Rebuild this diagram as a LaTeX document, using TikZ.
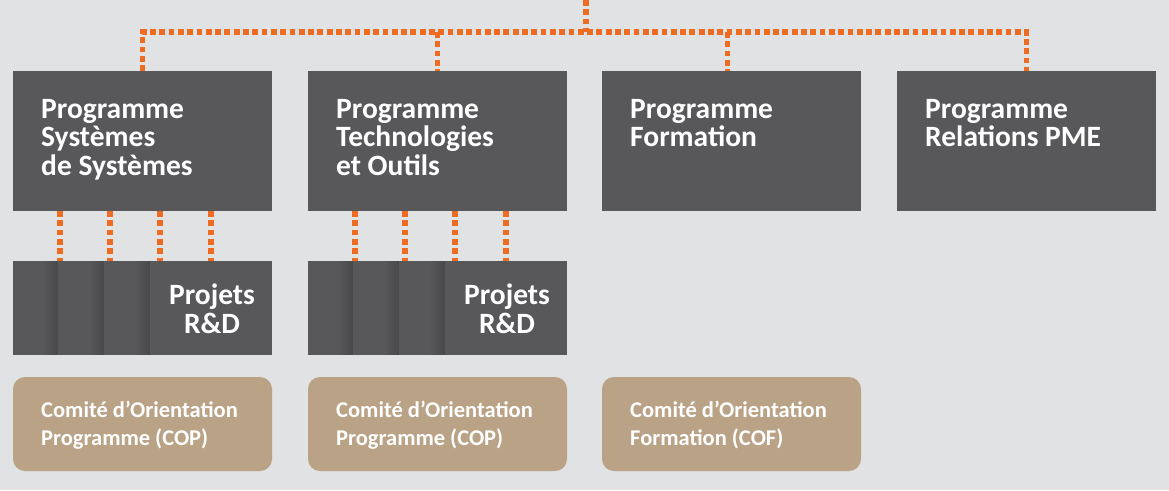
\documentclass[tikz,border=0pt]{standalone}
\usepackage{fontspec}
\setmainfont{Carlito}
\definecolor{bgc}{HTML}{E1E2E4}
\definecolor{boxc}{HTML}{58585B}
\definecolor{boxd}{HTML}{4A4A4D}
\definecolor{tanc}{HTML}{B9A285}
\definecolor{orc}{HTML}{EE6B22}
\tikzset{
  progbox/.style={draw=none, fill=boxc, minimum width=259pt, minimum height=140pt, inner sep=0pt, outer sep=0pt, anchor=north west},
  rdbox/.style={draw=none, fill=boxc, minimum width=259pt, minimum height=94pt, inner sep=0pt, outer sep=0pt, anchor=north west},
  copbox/.style={draw=none, fill=tanc, rounded corners=12pt, minimum width=259pt, minimum height=94pt, inner sep=0pt, outer sep=0pt, anchor=north west},
  bigtxt/.style={text=white, inner sep=0pt, align=left, font=\fontsize{29.5}{28.7}\selectfont\bfseries},
  rdtxt/.style={text=white, inner sep=0pt, align=center, font=\fontsize{29.5}{29}\selectfont\bfseries},
  smalltxt/.style={text=white, inner sep=0pt, align=left, font=\fontsize{22.5}{27.8}\selectfont\bfseries},
  dotline/.style={draw=orc, line width=5.5pt, dash pattern=on 5.8pt off 3.5pt},
}
\begin{document}
\begin{tikzpicture}[x=1pt,y=-1pt]
\useasboundingbox[fill=bgc] (0,0) rectangle (1169,490);
% top programme boxes
\node[progbox] (p1) at (13,71) {};
\node[progbox] (p2) at (308,71) {};
\node[progbox] (p3) at (602,71) {};
\node[progbox] (p4) at (897,71) {};
% (anchor base = baseline of the last line)
\node[bigtxt, anchor=base west] (t1) at (41,175.4) {Programme\\Systèmes\\de Systèmes};
\node[bigtxt, anchor=base west] (t2) at (336,175.4) {Programme\\Technologies\\et Outils};
\node[bigtxt, anchor=base west] (t3) at (630,146.7) {Programme\\Formation};
\node[bigtxt, anchor=base west] (t4) at (925,146.7) {Programme\\Relations PME};
% R&D boxes
\node[rdbox] (r1) at (13,261) {};
\node[rdbox] (r2) at (308,261) {};
\foreach \b in {r1,r2}{
  \foreach \d in {45,91,137}{
    \foreach \k in {1,...,7}{
      \pgfmathsetmacro{\pct}{\k*14}
      \fill[boxd!\pct!boxc] ([xshift=\d pt-16pt+\k*2pt]\b.north west) rectangle ([xshift=\d pt-14pt+\k*2pt]\b.south west);
    }
  }
}
\node[rdtxt, anchor=base] (q1) at (212,333) {Projets\\R\&D};
\node[rdtxt, anchor=base] (q2) at (507,333) {Projets\\R\&D};
% COP boxes
\node[copbox] (c1) at (13,377) {};
\node[copbox] (c2) at (308,377) {};
\node[copbox] (c3) at (602,377) {};
\node[smalltxt, anchor=base west] (s1) at (41,445) {Comité d’Orientation\\Programme (COP)};
\node[smalltxt, anchor=base west] (s2) at (336,445) {Comité d’Orientation\\Programme (COP)};
\node[smalltxt, anchor=base west] (s3) at (630,445) {Comité d’Orientation\\Formation (COF)};
% orange dotted connectors
\coordinate (top) at (586,0);
\coordinate (bus) at (586,32);
\draw[dotline] (top) -- (bus);
\draw[dotline] (p1.north) -- (p1.north |- bus) -- (p4.north |- bus) -- (p4.north);
\draw[dotline] (p2.north |- bus) -- (p2.north);
\draw[dotline] ([xshift=-4pt]p3.north |- bus) -- ([xshift=-4pt]p3.north);
\foreach \b/\r in {p1/r1,p2/r2}{
  \foreach \d in {47,97,147,198}{
    \draw[dotline] ([xshift=\d pt]\b.south west) -- ([xshift=\d pt]\r.north west);
  }
}
\end{tikzpicture}
\end{document}
